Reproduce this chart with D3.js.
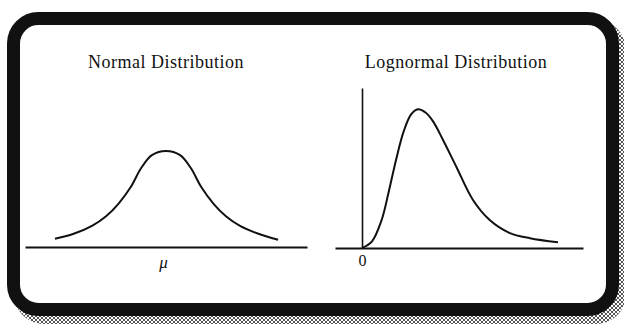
<!DOCTYPE html>
<html>
<head>
<meta charset="utf-8">
<script src="https://cdn.jsdelivr.net/npm/d3@7"></script>
<style>
  html, body { margin: 0; padding: 0; background: #fff; }
  svg { display: block; }
</style>
</head>
<body>
<svg id="chart" width="624" height="325"></svg>
<script>
// Panel titles and axis labels
const titles = ["Normal Distribution", "Lognormal Distribution"];
const normalTick = ["μ"];
const lognormalTick = ["0"];

// Normal curve: x in standard units, y as density
const normalX = [-3.15, -2.6, -2.1, -1.7, -1.35, -1.0, -0.7, -0.4, 0, 0.4, 0.7, 1.0, 1.35, 1.7, 2.1, 2.6, 3.18];
const normalY = [0.034, 0.056, 0.088, 0.128, 0.18, 0.25, 0.33, 0.383, 0.40, 0.383, 0.33, 0.25, 0.18, 0.128, 0.088, 0.056, 0.03];

// Lognormal curve: x >= 0, y as relative density
const lognormalX = [0, 0.2, 0.4, 0.55, 0.7, 0.85, 1.0, 1.14, 1.3, 1.45, 1.65, 1.92, 2.26, 2.6, 3.0, 3.42, 3.99];
const lognormalY = [0, 0.04, 0.175, 0.36, 0.56, 0.73, 0.835, 0.867, 0.845, 0.79, 0.675, 0.508, 0.30, 0.175, 0.095, 0.061, 0.036];

const svg = d3.select("#chart");
const ink = "#111";
const serif = "'Liberation Serif', 'DejaVu Serif', serif";

// Cross-hatched drop shadow
const defs = svg.append("defs");
const pat = defs.append("pattern")
  .attr("id", "hatch").attr("patternUnits", "userSpaceOnUse")
  .attr("width", 4).attr("height", 4);
pat.append("rect").attr("width", 4).attr("height", 4).attr("fill", "#fff");
pat.append("path").attr("d", "M0,0 L4,4 M4,0 L0,4")
  .attr("stroke", "#444").attr("stroke-width", 0.9);

svg.append("rect")
  .attr("x", 14).attr("y", 20).attr("width", 612).attr("height", 304)
  .attr("rx", 30).attr("fill", "url(#hatch)");

// Rounded frame
svg.append("rect")
  .attr("x", 13.5).attr("y", 18.5).attr("width", 599).attr("height", 291)
  .attr("rx", 25).attr("fill", "#fff")
  .attr("stroke", ink).attr("stroke-width", 13);

// Titles
const titleX = [166, 456];
svg.selectAll("text.title").data(titles).join("text")
  .attr("class", "title")
  .attr("x", (d, i) => titleX[i]).attr("y", 68)
  .attr("text-anchor", "middle")
  .attr("font-family", serif).attr("font-size", 18)
  .attr("letter-spacing", 0.5)
  .attr("fill", ink)
  .text(d => d);

const smooth = d3.curveCatmullRom.alpha(0.5);

// ---- Normal panel ----
const xN = d3.scaleLinear().domain([-4, 4]).range([25, 307]);
const yN = d3.scaleLinear().domain([0, 0.4]).range([247, 151]);

const axN = svg.append("g")
  .attr("transform", `translate(0,${yN(0)})`)
  .call(d3.axisBottom(xN).tickValues([0]).tickFormat((d, i) => normalTick[i])
    .tickSize(0).tickSizeOuter(0).tickPadding(9));
axN.select(".domain").attr("stroke", ink).attr("stroke-width", 2.2);
axN.selectAll(".tick text")
  .style("font-family", serif).style("font-style", "italic")
  .style("font-size", "17px").attr("fill", ink).attr("dx", -3);

const normalPts = normalX.map((x, i) => [x, normalY[i]]);
svg.append("path")
  .datum(normalPts)
  .attr("fill", "none").attr("stroke", ink).attr("stroke-width", 2)
  .attr("d", d3.line().x(d => xN(d[0])).y(d => yN(d[1])).curve(smooth));

// ---- Lognormal panel ----
const xL = d3.scaleLinear().domain([-0.55, 4.5]).range([335, 583]);
const yL = d3.scaleLinear().domain([0, 1]).range([248, 88]);

const axL = svg.append("g")
  .attr("transform", `translate(0,${yL(0)})`)
  .call(d3.axisBottom(xL).tickValues([0]).tickFormat((d, i) => lognormalTick[i])
    .tickSize(0).tickSizeOuter(0).tickPadding(7));
axL.select(".domain").attr("stroke", ink).attr("stroke-width", 2);
axL.selectAll(".tick text")
  .style("font-family", serif).style("font-size", "16px").attr("fill", ink);

const ayL = svg.append("g")
  .attr("transform", `translate(${xL(0)},0)`)
  .call(d3.axisLeft(yL).tickValues([]).tickSizeOuter(0));
ayL.select(".domain").attr("stroke", ink).attr("stroke-width", 1.6);

const lognormalPts = lognormalX.map((x, i) => [x, lognormalY[i]]);
svg.append("path")
  .datum(lognormalPts)
  .attr("fill", "none").attr("stroke", ink).attr("stroke-width", 2)
  .attr("d", d3.line().x(d => xL(d[0])).y(d => yL(d[1])).curve(smooth));
</script>
</body>
</html>
